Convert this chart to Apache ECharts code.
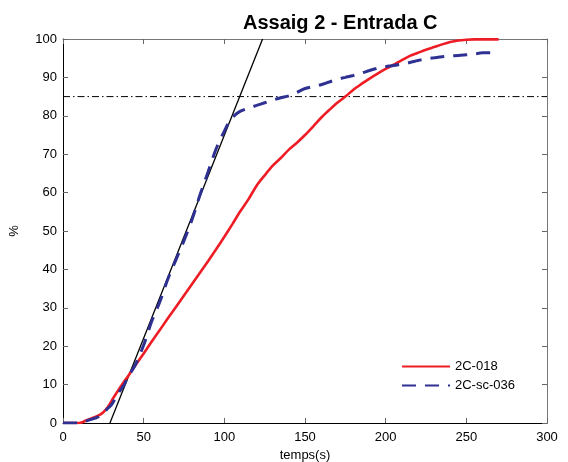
<!DOCTYPE html>
<html><head><meta charset="utf-8">
<script src="https://cdn.jsdelivr.net/npm/echarts@6/dist/echarts.min.js"></script>
<style>html,body{margin:0;padding:0;background:#fff}#c{width:568px;height:462px}</style>
</head><body><div id="c"></div>
<script>
const title = 'Assaig 2 - Entrada C';
const xTicks = [0, 50, 100, 150, 200, 250, 300];
const yTicks = [0, 10, 20, 30, 40, 50, 60, 70, 80, 90, 100];
const redName = '2C-018';
const redX = [0,5,10,12,15,20,23,25,28,31,35,38,40,45,50,55,60,65,70,75,80,85,90,95,100,105,110,115,120,125,130,135,140,145,150,155,160,165,170,175,180,185,190,195,200,205,210,215,220,225,230,235,240,245,250,255,260,270];
const redY = [0,0,0,0.2,0.8,1.6,2.2,2.8,4.3,6.4,9.0,10.9,12.0,15.1,18.1,21.2,24.2,27.3,30.2,33.2,36.2,39.2,42.2,45.3,48.5,51.8,55.2,58.3,61.8,64.5,67,69,71.2,73,75,77.2,79.5,81.5,83.4,85,86.8,88.3,89.7,91,92.2,93.3,94.5,95.6,96.4,97.2,97.9,98.6,99.2,99.6,99.8,99.9,99.9,99.9];
const blueName = '2C-sc-036';
const blueX = [0,5,10,12,15,20,22,25,28,30,33,35,38,40,45,50,55,60,65,70,75,80,85,90,95,100,103,106,110,115,120,125,130,135,140,145,150,155,160,165,170,175,180,185,190,195,200,205,210,215,220,225,230,235,240,245,250,255,260,265,270];
const blueY = [0,0,0,0.2,0.6,1.3,1.6,2.7,3.9,4.7,6.8,8.2,10,11.8,15.3,20.3,26.5,31.5,37.5,42.5,47.5,53,59.5,65.5,71.5,76,78.5,80,81.2,82,82.7,83.4,84.1,84.7,85.2,86.1,87.1,87.6,88.1,88.8,89.5,90,90.5,91.1,91.8,92.4,92.8,93.1,93.5,93.9,94.4,94.8,95.1,95.4,95.6,95.7,95.9,96.1,96.4,96.4,96.4];
const fitX = [29.1, 123.7];
const fitY = [0, 100];
const refX = [0, 300];
const refY = [85, 85];

const zip = (a, b) => a.map((v, i) => [v, b[i]]);
const font = 'Liberation Sans, Arial, sans-serif';
const axBase = {
  type: 'value', min: 0, splitLine: { show: false },
  axisTick: { show: true, inside: true, length: 5, lineStyle: { color: '#666' } },
  axisLabel: { color: '#000', fontSize: 13, fontFamily: font },
  axisLine: { show: true, onZero: false, lineStyle: { color: '#000', width: 1 } }
};
const chart = echarts.init(document.getElementById('c'), null, { renderer: 'canvas' });
chart.setOption({
  animation: false,
  backgroundColor: '#fff',
  title: { text: title, left: 238, top: 8, textStyle: { fontSize: 20, fontWeight: 'bold', fontFamily: font, color: '#000' } },
  grid: { left: 63, right: 21, top: 39, bottom: 39, outerBoundsMode: 'none', containLabel: false },
  legend: {
    data: [redName, blueName], orient: 'vertical', left: 396, top: 355, itemGap: 6,
    itemWidth: 48, itemHeight: 14, itemStyle: { opacity: 0 },
    textStyle: { fontSize: 13, fontFamily: font, color: '#000' }
  },
  xAxis: [
    Object.assign({}, axBase, { max: 300, interval: 50, position: 'bottom', name: 'temps(s)', nameLocation: 'middle', nameGap: 25, nameTextStyle: { fontSize: 13, fontFamily: font, color: '#000' }, axisLabel: Object.assign({}, axBase.axisLabel, { margin: 8 }) }),
    Object.assign({}, axBase, { max: 300, interval: 50, position: 'top', axisLabel: { show: false }, axisLine: { show: true, onZero: false, lineStyle: { color: '#777', width: 1 } } })
  ],
  yAxis: [
    Object.assign({}, axBase, { max: 100, interval: 10, position: 'left', name: '%', nameLocation: 'middle', nameGap: 42, nameTextStyle: { fontSize: 13, fontFamily: font, color: '#000' }, axisLabel: Object.assign({}, axBase.axisLabel, { margin: 6 }) }),
    Object.assign({}, axBase, { max: 100, interval: 10, position: 'right', axisLabel: { show: false }, axisLine: { show: true, onZero: false, lineStyle: { color: '#777', width: 1 } } })
  ],
  series: [
    { name: 'ref', type: 'line', data: zip(refX, refY), symbol: 'none', silent: true,
      lineStyle: { color: '#000', width: 1, type: [7, 3, 1.5, 3] }, z: 1 },
    { name: 'fit', type: 'line', data: zip(fitX, fitY), symbol: 'none', silent: true,
      lineStyle: { color: '#000', width: 1.3 }, z: 2 },
    { name: redName, type: 'line', data: zip(redX, redY), symbol: 'none', smooth: 0.3,
      itemStyle: { color: '#ee1c25' }, lineStyle: { color: '#ee1c25', width: 2.6 }, z: 3 },
    { name: blueName, type: 'line', data: zip(blueX, blueY), symbol: 'none', smooth: 0.3,
      itemStyle: { color: '#2e3192' }, lineStyle: { color: '#2e3192', width: 3, type: [14, 9] }, z: 4 }
  ]
});
</script></body></html>
